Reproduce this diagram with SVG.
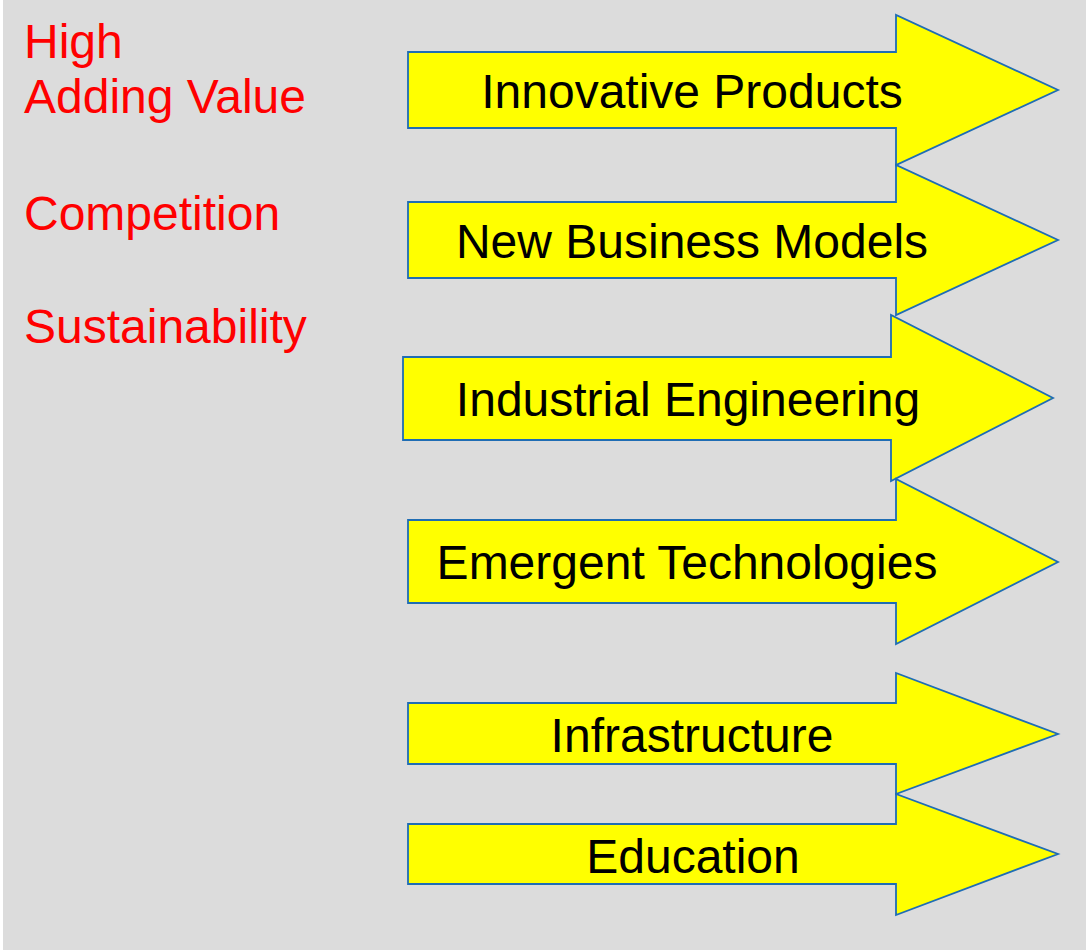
<svg xmlns="http://www.w3.org/2000/svg" width="1086" height="950" viewBox="0 0 1086 950">
<style>
.arrow{fill:#FFFF00;stroke:#1F6DB4;stroke-width:1.8;stroke-linejoin:miter}
.lbl{font-family:"Liberation Sans",Arial,sans-serif;font-size:48px;fill:#000;text-anchor:middle}
.red{font-family:"Liberation Sans",Arial,sans-serif;font-size:48px;fill:#FF0000}
</style>
<rect x="0" y="0" width="1086" height="950" fill="#FFFFFF"/>
<rect x="3" y="0" width="1083" height="950" fill="#DCDCDC"/>
<g id="labels">
<text class="red" x="24" y="58">High</text>
<text class="red" x="24" y="113">Adding Value</text>
<text class="red" x="24" y="230">Competition</text>
<text class="red" x="24" y="343">Sustainability</text>
</g>
<g id="connectors"></g>
<g id="n1">
<polygon class="arrow" points="408,52 896,52 896,15 1058,90 896,165 896,128 408,128"/>
<text class="lbl" x="692" y="108">Innovative Products</text>
</g>
<g id="n2">
<polygon class="arrow" points="408,202 896,202 896,165 1058,240 896,315 896,278 408,278"/>
<text class="lbl" x="692" y="258">New Business Models</text>
</g>
<g id="n3">
<polygon class="arrow" points="403,357 891,357 891,315 1053,398 891,481 891,440 403,440"/>
<text class="lbl" x="688" y="416">Industrial Engineering</text>
</g>
<g id="n4">
<polygon class="arrow" points="408,520 896,520 896,479 1058,562 896,644 896,603 408,603"/>
<text class="lbl" x="687" y="579">Emergent Technologies</text>
</g>
<g id="n5">
<polygon class="arrow" points="408,703 896,703 896,673 1058,734 896,794 896,764 408,764"/>
<text class="lbl" x="692" y="752">Infrastructure</text>
</g>
<g id="n6">
<polygon class="arrow" points="408,824 896,824 896,794 1058,854 896,915 896,884 408,884"/>
<text class="lbl" x="693" y="873">Education</text>
</g>
</svg>
